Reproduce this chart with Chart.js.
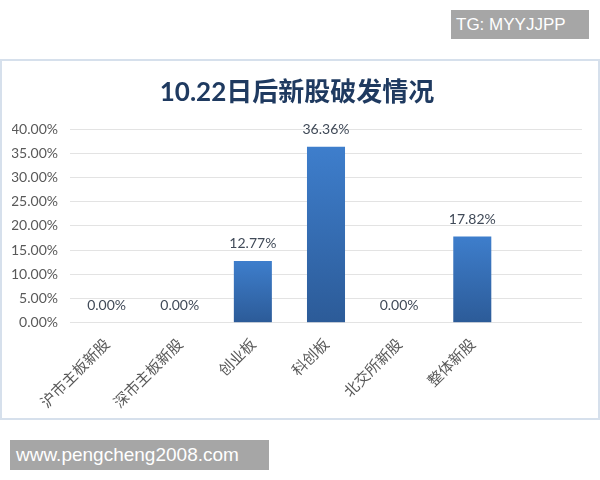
<!DOCTYPE html>
<html lang="zh">
<head>
  <meta charset="UTF-8">
  <title>10.22日后新股破发情况</title>
  <script src="https://cdn.jsdelivr.net/npm/chart.js"></script>
  <style>
    body {
      margin: 0;
      background: #ffffff;
      width: 600px;
      height: 480px;
      position: relative;
      overflow: hidden;
    }

    .tag {
      position: absolute;
      background: #a6a6a6;
      color: #ffffff;
      font-family: 'Liberation Sans', Arial, sans-serif;
      box-sizing: border-box;
      white-space: nowrap;
    }

    #tg {
      left: 451px;
      top: 10px;
      width: 138px;
      height: 29px;
      font-size: 17px;
      line-height: 29px;
      padding-left: 5px;
    }

    #site {
      left: 10px;
      top: 440px;
      width: 259px;
      height: 30px;
      font-size: 19px;
      line-height: 30px;
      padding-left: 6px;
    }

    .chart-box {
      position: absolute;
      left: 0;
      top: 59px;
      width: 600px;
      height: 361px;
      border: 2px solid #d6e0ec;
      box-sizing: border-box;
    }
  </style>
</head>
<body>

<div class="tag" id="tg">TG: MYYJJPP</div>
<div class="chart-box"><canvas id="ipoChart"></canvas></div>
<div class="tag" id="site">www.pengcheng2008.com</div>

<script>
  // categories (last one is an empty slot, as in the original sheet)
  const boards = ['沪市主板新股', '深市主板新股', '创业板', '科创板', '北交所新股', '整体新股', ''];
  // share of new listings that broke issue price, in %
  const breakRates = [0.00, 0.00, 12.77, 36.36, 0.00, 17.82, null];
  const yMax = 40;
  const yStep = 5;

  const pct = v => v.toFixed(2) + '%';

  const valueLabels = {
    id: 'valueLabels',
    afterDatasetsDraw(chart) {
      const ctx = chart.ctx;
      const meta = chart.getDatasetMeta(0);
      ctx.save();
      ctx.font = '14px Lato, "Open Sans", sans-serif';
      ctx.fillStyle = '#404a58';
      ctx.textAlign = 'center';
      ctx.textBaseline = 'middle';
      meta.data.forEach((bar, i) => {
        const v = breakRates[i];
        if (v === null) return;
        ctx.fillText(pct(v), bar.x, bar.y - 17);
      });
      ctx.restore();
    }
  };

  new Chart(document.getElementById('ipoChart').getContext('2d'), {
    type: 'bar',
    data: {
      labels: boards,
      datasets: [{
        data: breakRates,
        backgroundColor(c) {
          const chart = c.chart;
          if (!chart.chartArea || c.raw === null || c.raw === undefined) return '#3a6fb5';
          const y = chart.scales.y;
          const top = y.getPixelForValue(c.raw);
          const bottom = y.getPixelForValue(0);
          if (bottom - top < 1) return '#3a6fb5';
          const g = chart.ctx.createLinearGradient(0, top, 0, bottom);
          g.addColorStop(0, '#3e7ecc');
          g.addColorStop(1, '#2c5b98');
          return g;
        },
        barPercentage: 1,
        categoryPercentage: 0.52
      }]
    },
    options: {
      responsive: true,
      maintainAspectRatio: false,
      animation: false,
      layout: {
        padding: { left: 10, right: 16, top: 0, bottom: 3 }
      },
      plugins: {
        legend: { display: false },
        tooltip: { enabled: false },
        title: {
          display: true,
          text: '10.22日后新股破发情况',
          color: '#1f3a60',
          font: { family: 'Lato, "Noto Sans CJK SC", sans-serif', size: 26, weight: 'bold' },
          padding: { top: 16, bottom: 21 }
        }
      },
      scales: {
        x: {
          grid: { display: false },
          border: { display: false },
          ticks: {
            color: '#595959',
            font: { family: '"Noto Sans CJK SC", sans-serif', size: 15 },
            maxRotation: 45,
            minRotation: 45,
            autoSkip: false,
            padding: 4
          },
          // rotated labels may hang left of the plot, as in the original
          afterFit(scale) {
            scale.paddingLeft = 0;
            scale.paddingRight = 0;
          }
        },
        y: {
          min: 0,
          max: yMax,
          grid: { color: '#e3e3e3', drawTicks: false },
          border: { display: false },
          ticks: {
            stepSize: yStep,
            color: '#595959',
            font: { family: 'Lato, "Open Sans", sans-serif', size: 14 },
            padding: 12,
            callback: v => pct(v)
          },
          afterFit(scale) {
            scale.width = 58;
          }
        }
      }
    },
    plugins: [valueLabels]
  });
</script>

</body>
</html>
